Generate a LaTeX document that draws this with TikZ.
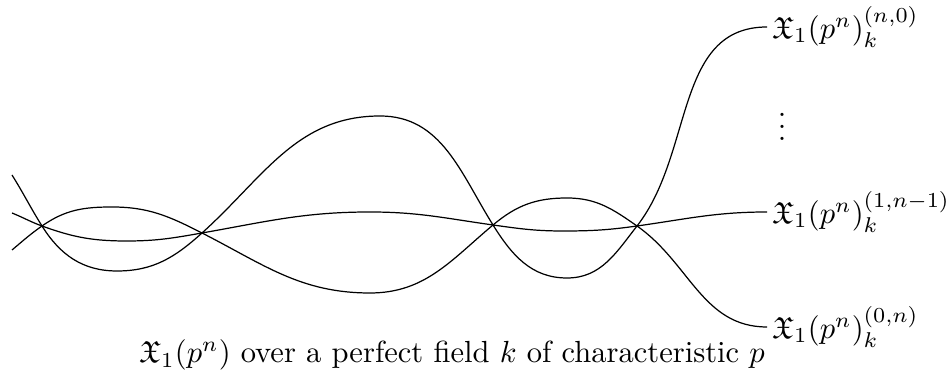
\documentclass[tikz,border=0pt]{standalone}
\usepackage{amsmath}
\usepackage{amssymb}
\usepackage{tikz}
\usetikzlibrary{positioning}
\tikzstyle{strand}=[draw=black,line width=0.4pt]
\tikzstyle{lbl}=[anchor=west,inner sep=1.5pt]

\begin{document}
\begin{tikzpicture}[x=0.01151cm,y=0.01151cm]
  \useasboundingbox (0,0) rectangle (949,381);
  % where the three strands meet
  \coordinate (c1) at (42,155);
  \coordinate (c2) at (202,148);
  \coordinate (c3) at (493,156);
  \coordinate (c4) at (637,155);
  % loose left ends
  \coordinate (a0) at (12,206);
  \coordinate (m0) at (12,168);
  \coordinate (b0) at (12,131);
  % labels on the right
  \node[lbl] (xn0) at (767,354) {$\mathfrak{X}_1(p^n)_k^{(n,0)}$};
  \node[lbl] (x1n) at (767,169) {$\mathfrak{X}_1(p^n)_k^{(1,n-1)}$};
  \node[lbl] (x0n) at (767,54) {$\mathfrak{X}_1(p^n)_k^{(0,n)}$};
  \node[inner sep=0pt] (dots) at (782,263) {$\vdots$};
  \node (cap) at (452,26) {$\mathfrak{X}_1(p^n)$ over a perfect field $k$ of characteristic $p$};
  % strands
  \draw[strand] (a0) to[out=-58,in=122] (c1) to[out=-58,in=180] (117,110)
    to[out=0,in=222] (c2) to[out=42,in=180] (380,265) to[out=0,in=122] (c3)
    to[out=-58,in=180] (567,103) to[out=0,in=232] (c4) to[out=52,in=180] (xn0.west);
  \draw[strand] (m0) to[out=-22,in=160] (c1) to[out=-20,in=180] (127,140)
    to[out=0,in=190] (c2) to[out=10,in=180] (370,169) to[out=0,in=172] (c3)
    to[out=-8,in=180] (563,150) to[out=0,in=188] (c4) to[out=8,in=180] (x1n.west);
  \draw[strand] (b0) to[out=40,in=215] (c1) to[out=35,in=180] (112,174)
    to[out=0,in=153] (c2) to[out=-27,in=180] (370,88) to[out=0,in=220] (c3)
    to[out=40,in=180] (567,183) to[out=0,in=145] (c4) to[out=-35,in=180] (x0n.west);
\end{tikzpicture}
\end{document}
